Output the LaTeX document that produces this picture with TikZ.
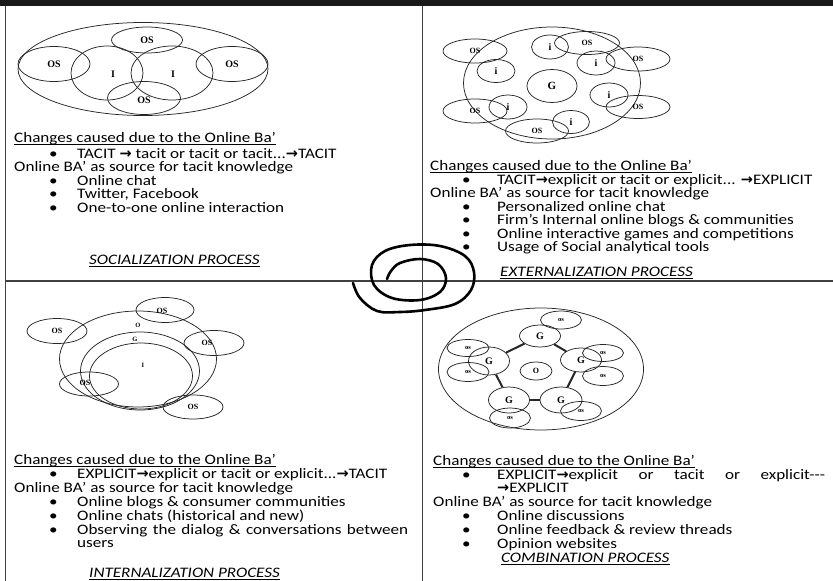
\documentclass[tikz,border=0pt]{standalone}
\usepackage{fontspec}
\setmainfont{Carlito}[FakeStretch=1.18]
\newfontfamily\lblfont{Liberation Serif}
\newfontfamily\symfont{DejaVu Sans}
\usetikzlibrary{shapes.geometric}
\newcommand{\rarr}{{\symfont\bfseries\char"2192}}

\tikzset{
  txt/.style={anchor=base west, inner sep=0pt, font=\fontsize{14.5}{15}\selectfont},
  ttl/.style={txt, font=\fontsize{14.5}{15}\selectfont\itshape},
  ring/.style={ellipse, draw=black!85, line width=0.75pt, inner sep=0pt},
  lblA/.style={inner sep=0pt, font=\lblfont\bfseries\fontsize{10}{10}\selectfont},
  lblB/.style={inner sep=0pt, font=\lblfont\bfseries\fontsize{8}{8}\selectfont},
  lblC/.style={inner sep=0pt, font=\lblfont\bfseries\fontsize{6.5}{6.5}\selectfont},
  rule/.style={black!75, line width=1.1pt},
  link/.style={line width=2pt, black!85},
}

\begin{document}
\begin{tikzpicture}[x=1pt, y=-1pt]
\useasboundingbox (0,0) rectangle (833,581);

% frame of the four quadrants
\fill[black!90] (0,0) rectangle (833,6);
\draw[rule] (5.5,6) -- (5.5,581);
\draw[rule] (422.5,6) -- (422.5,581);
\draw[rule] (5.5,281) -- (833,281);

% ---------- socialization: overlapping circles ----------
\node[ring, minimum width=250pt, minimum height=93pt] (soBa) at (143,69) {};
\node[ring, minimum width=72pt, minimum height=54pt] (soI1) at (107,73) {};
\node[ring, minimum width=82pt, minimum height=54pt] (soI2) at (172,73) {};
\node[ring, minimum width=71pt, minimum height=26pt, lblA] (soO1) at (147,40) {OS};
\node[ring, minimum width=72pt, minimum height=35pt, lblA] (soO2) at (54,64) {OS};
\node[ring, minimum width=72pt, minimum height=35pt, lblA] (soO3) at (232,64) {OS};
\node[ring, minimum width=73pt, minimum height=33pt] (soO4) at (144,98) {};
\node[lblA] (soO4t) at (144,100) {OS};
\node[lblA] (soI1t) at (113,74) {I};
\node[lblA] (soI2t) at (173,74) {I};

% ---------- externalization: group with individuals ----------
\node[ring, minimum width=177pt, minimum height=112pt] (exG0) at (552,83) {};
\node[ring, minimum width=50pt, minimum height=33pt, lblA, font=\lblfont\bfseries\fontsize{11}{11}\selectfont] (exG) at (552,86) {G};
\node[ring, minimum width=64pt, minimum height=24pt, lblB] (exO1) at (475,51) {OS};
\node[ring, minimum width=65pt, minimum height=23pt, lblB] (exO2) at (587,43) {OS};
\node[ring, minimum width=64pt, minimum height=24pt, lblB] (exO3) at (638,59) {OS};
\node[ring, minimum width=64pt, minimum height=23pt, lblB] (exO4) at (638,107) {OS};
\node[ring, minimum width=64pt, minimum height=24pt, lblB] (exO5) at (475,111) {OS};
\node[ring, minimum width=63pt, minimum height=24pt, lblB] (exO6) at (537,131) {OS};
\node[ring, minimum width=38pt, minimum height=23pt, lblA] (exi1) at (496,71) {i};
\node[ring, minimum width=37pt, minimum height=24pt, lblA] (exi2) at (550,47) {i};
\node[ring, minimum width=38pt, minimum height=24pt, lblA] (exi3) at (596,63) {i};
\node[ring, minimum width=38pt, minimum height=24pt, lblA] (exi4) at (609,95) {i};
\node[ring, minimum width=38pt, minimum height=24pt, lblA] (exi5) at (508,107) {i};
\node[ring, minimum width=37pt, minimum height=23pt, lblA] (exi6) at (571,122) {i};

% ---------- internalization: nested circles ----------
\node[ring, minimum width=157pt, minimum height=96pt] (inO) at (138,359) {};
\node[ring, minimum width=119pt, minimum height=78pt] (inG) at (140,371) {};
\node[ring, minimum width=103pt, minimum height=66pt] (inI) at (141,376) {};
\node[lblC] (inOt) at (138,325) {O};
\node[lblC] (inGt) at (135,339) {G};
\node[lblC] (inIt) at (143,365) {I};
\node[ring, minimum width=58pt, minimum height=25pt] (inS1) at (165,310) {};
\node[lblB] (inS1t) at (162,311) {OS};
\node[ring, minimum width=60pt, minimum height=25pt, lblB] (inS2) at (57,331) {OS};
\node[ring, minimum width=60pt, minimum height=25pt] (inS3) at (214,343) {};
\node[lblB] (inS3t) at (207,343) {OS};
\node[ring, minimum width=59pt, minimum height=24pt] (inS4) at (89,384) {};
\node[lblB] (inS4t) at (85,383) {OS};
\node[ring, minimum width=60pt, minimum height=24pt, lblB] (inS5) at (193,407) {OS};

% ---------- combination: linked groups ----------
\node[ring, minimum width=205pt, minimum height=122pt] (coBa) at (541,369) {};
\node[ring, minimum width=32pt, minimum height=18pt, lblB] (coO) at (536,371) {O};
\node[ring, minimum width=41pt, minimum height=22pt, lblA] (coG1) at (540,336) {G};
\node[ring, minimum width=41pt, minimum height=24pt, lblA] (coG2) at (581,360) {G};
\node[ring, minimum width=42pt, minimum height=26pt, lblA] (coG3) at (561,400) {G};
\node[ring, minimum width=41pt, minimum height=26pt, lblA] (coG4) at (509,400) {G};
\node[ring, minimum width=41pt, minimum height=28pt, lblA] (coG5) at (489,361) {G};
\node[ring, minimum width=41pt, minimum height=18pt, lblC] (coS1) at (561,320) {os};
\node[ring, minimum width=41pt, minimum height=17pt, lblC] (coS2) at (603,353) {os};
\node[ring, minimum width=41pt, minimum height=19pt, lblC] (coS3) at (603,376) {os};
\node[ring, minimum width=41pt, minimum height=19pt, lblC] (coS4) at (581,411) {os};
\node[ring, minimum width=41pt, minimum height=20pt, lblC] (coS5) at (510,418) {os};
\node[ring, minimum width=42pt, minimum height=19pt, lblC] (coS6) at (468,372) {os};
\node[ring, minimum width=42pt, minimum height=17pt, lblC] (coS7) at (468,348) {os};
\draw[link] (coG1) -- (coG2);
\draw[link] (coG2) -- (coG3);
\draw[link] (coG3) -- (coG4);
\draw[link] (coG4) -- (coG5);
\draw[link] (coG5) -- (coG1);

% ---------- socialization text ----------
\node[txt] (sa1) at (14,142) {Changes caused due to the Online Ba’};
\draw ([yshift=-2pt]sa1.base west) -- ([yshift=-2pt]sa1.base east);
\node[txt] (sb1) at (49,158) {•};
\node[txt] (sa2) at (77,158) {TACIT \rarr{} tacit or tacit or tacit...\rarr TACIT};
\node[txt] (sa3) at (14,171) {Online BA’ as source for tacit knowledge};
\node[txt] (sb2) at (49,185) {•};
\node[txt] (sa4) at (77,185) {Online chat};
\node[txt] (sb3) at (49,198) {•};
\node[txt] (sa5) at (77,198) {Twitter, Facebook};
\node[txt] (sb4) at (49,212) {•};
\node[txt] (sa6) at (77,212) {One-to-one online interaction};
\node[ttl] (sa7) at (89,264) {SOCIALIZATION PROCESS};
\draw ([yshift=-2pt]sa7.base west) -- ([yshift=-2pt]sa7.base east);

% ---------- externalization text ----------
\node[txt] (ea1) at (430,170) {Changes caused due to the Online Ba’};
\draw ([yshift=-2pt]ea1.base west) -- ([yshift=-2pt]ea1.base east);
\node[txt] (eb1) at (462,184) {•};
\node[txt] (ea2) at (497,184) {TACIT\rarr explicit or tacit or explicit... \rarr EXPLICIT};
\node[txt] (ea3) at (430,197) {Online BA’ as source for tacit knowledge};
\node[txt] (eb2) at (462,211) {•};
\node[txt] (ea4) at (497,211) {Personalized online chat};
\node[txt] (eb3) at (462,224) {•};
\node[txt] (ea5) at (497,224) {Firm’s Internal online blogs \& communities};
\node[txt] (eb4) at (462,238) {•};
\node[txt] (ea6) at (497,238) {Online interactive games and competitions};
\node[txt] (eb5) at (462,251) {•};
\node[txt] (ea7) at (497,251) {Usage of Social analytical tools};
\node[ttl] (ea8) at (500,276) {EXTERNALIZATION PROCESS};
\draw ([yshift=-2pt]ea8.base west) -- ([yshift=-2pt]ea8.base east);

% ---------- internalization text ----------
\node[txt] (ia1) at (14,464) {Changes caused due to the Online Ba’};
\draw ([yshift=-2pt]ia1.base west) -- ([yshift=-2pt]ia1.base east);
\node[txt] (ib1) at (49,478) {•};
\node[txt] (ia2) at (77,478) {EXPLICIT\rarr explicit or tacit or explicit...\rarr TACIT};
\node[txt] (ia3) at (14,492) {Online BA’ as source for tacit knowledge};
\node[txt] (ib2) at (49,506) {•};
\node[txt] (ia4) at (77,506) {Online blogs \& consumer communities};
\node[txt] (ib3) at (49,520) {•};
\node[txt] (ia5) at (77,520) {Online chats (historical and new)};
\node[txt] (ib4) at (49,534) {•};
\node[txt] (ia6) at (77,534) {\makebox[331pt][s]{Observing the dialog \& conversations between}};
\node[txt] (ia7) at (77,547) {users};
\node[ttl] (ia8) at (89,577) {INTERNALIZATION PROCESS};
\draw ([yshift=-2pt]ia8.base west) -- ([yshift=-2pt]ia8.base east);

% ---------- combination text ----------
\node[txt] (ca1) at (433,465) {Changes caused due to the Online Ba’};
\draw ([yshift=-2pt]ca1.base west) -- ([yshift=-2pt]ca1.base east);
\node[txt] (cb1) at (462,479) {•};
\node[txt] (ca2) at (497,479) {\makebox[328pt][s]{EXPLICIT\rarr explicit or tacit or explicit-{}-{}-}};
\node[txt] (ca3) at (497,492) {\rarr EXPLICIT};
\node[txt] (ca4) at (433,506) {Online BA’ as source for tacit knowledge};
\node[txt] (cb2) at (462,520) {•};
\node[txt] (ca5) at (497,520) {Online discussions};
\node[txt] (cb3) at (462,534) {•};
\node[txt] (ca6) at (497,534) {Online feedback \& review threads};
\node[txt] (cb4) at (462,548) {•};
\node[txt] (ca7) at (497,548) {Opinion websites};
\node[ttl] (ca8) at (501,562) {COMBINATION PROCESS};
\draw ([yshift=-2pt]ca8.base west) -- ([yshift=-2pt]ca8.base east);

% ---------- hand-drawn spiral at the centre ----------
\draw[line width=2.6pt, line cap=round, line join=round] plot[smooth, tension=0.6] coordinates {
  (353,283) (360,298) (377,311) (400,312) (425,310) (455,304) (471,290)
  (474,272) (465,256) (440,246) (410,245) (385,251) (372,265) (374,285)
  (392,298) (420,300) (440,292) (446,278) (438,264) (420,259) (400,263)
  (391,271) (387,279)};
\end{tikzpicture}
\end{document}
